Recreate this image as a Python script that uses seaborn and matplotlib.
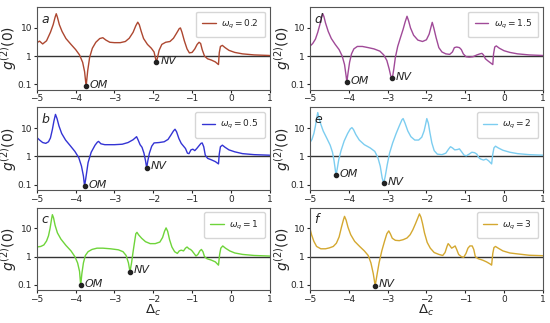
import numpy as np
import matplotlib
matplotlib.use("Agg")
import matplotlib.pyplot as plt
import seaborn as sns

# curves (detuning, g2(0))
x_a = [-5.0, -4.93, -4.85, -4.75, -4.65, -4.58, -4.53, -4.5, -4.47, -4.42, -4.35, -4.25, -4.12, -4.0, -3.9,
       -3.82, -3.77, -3.73, -3.69, -3.64, -3.57, -3.48, -3.38, -3.3, -3.22, -3.12, -3.0, -2.85, -2.72, -2.62,
       -2.52, -2.45, -2.4, -2.36, -2.31, -2.25, -2.15, -2.05, -1.98, -1.94, -1.92, -1.89, -1.85, -1.78, -1.68,
       -1.57, -1.48, -1.4, -1.33, -1.3, -1.26, -1.2, -1.13, -1.07, -1.0, -0.93, -0.87, -0.82, -0.78, -0.74,
       -0.68, -0.6, -0.5, -0.4, -0.32, -0.3, -0.27, -0.22, -0.15, -0.05, 0.1, 0.3, 0.6, 1.0]
y_a = [3.0, 3.4, 2.7, 3.5, 7.0, 13, 24, 32, 24, 13, 7.5, 4.2, 2.6, 1.7, 1.1,
       0.6, 0.28, 0.085, 0.3, 0.9, 1.9, 3.1, 4.2, 4.5, 3.7, 3.1, 3.0, 3.0, 3.3, 4.3,
       7.0, 12, 16, 13, 7.5, 4.2, 2.6, 1.9, 1.4, 0.8, 0.6, 0.9, 1.6, 2.6, 3.1,
       3.3, 4.3, 6.5, 9.5, 10, 7.0, 3.5, 1.8, 1.3, 1.35, 1.8, 2.6, 3.1, 2.8, 1.7,
       1.0, 0.8, 0.72, 0.62, 0.5, 1.3, 2.2, 2.4, 2.0, 1.6, 1.35, 1.2, 1.1, 1.05]

x_b = [-5.0, -4.93, -4.85, -4.77, -4.7, -4.65, -4.6, -4.56, -4.52, -4.48, -4.43, -4.36, -4.26, -4.14, -4.02,
       -3.92, -3.85, -3.8, -3.77, -3.73, -3.68, -3.6, -3.5, -3.44, -3.41, -3.35, -3.25, -3.0, -2.8, -2.65,
       -2.52, -2.43, -2.39, -2.34, -2.29, -2.24, -2.2, -2.17, -2.14, -2.1, -2.04, -1.98, -1.85, -1.72, -1.62,
       -1.55, -1.48, -1.44, -1.4, -1.34, -1.28, -1.22, -1.17, -1.12, -1.08, -1.03, -0.98, -0.93, -0.88, -0.82,
       -0.77, -0.74, -0.7, -0.66, -0.6, -0.5, -0.4, -0.32, -0.3, -0.27, -0.22, -0.15, -0.05, 0.1, 0.3,
       0.6, 1.0]
y_b = [4.7, 3.8, 3.1, 2.9, 3.3, 4.5, 9.0, 18, 31, 22, 12, 6.5, 3.8, 2.4, 1.5,
       0.9, 0.45, 0.2, 0.087, 0.2, 0.6, 1.4, 2.5, 3.2, 3.4, 2.8, 2.6, 2.6, 2.7, 3.1,
       3.9, 5.0, 3.8, 2.6, 2.1, 1.3, 0.7, 0.39, 0.7, 1.3, 2.3, 3.0, 3.1, 3.3, 4.0,
       5.6, 8.0, 9.2, 7.5, 4.3, 2.9, 2.3, 1.9, 1.3, 1.25, 1.7, 1.8, 1.6, 1.9, 2.4,
       2.9, 3.0, 2.2, 1.1, 0.85, 0.75, 0.65, 0.54, 1.2, 2.2, 2.5, 2.1, 1.7, 1.45, 1.25,
       1.15, 1.1]

x_c = [-5.0, -4.9, -4.82, -4.75, -4.7, -4.66, -4.62, -4.6, -4.57, -4.53, -4.47, -4.38, -4.25, -4.12, -4.02,
       -3.95, -3.9, -3.87, -3.84, -3.8, -3.75, -3.68, -3.58, -3.45, -3.3, -3.1, -2.9, -2.78, -2.7, -2.64,
       -2.6, -2.56, -2.52, -2.48, -2.45, -2.42, -2.38, -2.3, -2.2, -2.08, -1.95, -1.83, -1.76, -1.71, -1.67,
       -1.63, -1.58, -1.52, -1.45, -1.38, -1.33, -1.28, -1.22, -1.17, -1.13, -1.08, -1.04, -1.0, -0.95, -0.9,
       -0.85, -0.8, -0.76, -0.72, -0.68, -0.62, -0.5, -0.4, -0.32, -0.29, -0.26, -0.21, -0.14, -0.03, 0.1,
       0.3, 0.6, 1.0]
y_c = [2.2, 2.3, 2.6, 3.6, 5.5, 10, 22, 31, 24, 13, 7.0, 4.2, 2.5, 1.6, 1.0,
       0.6, 0.3, 0.095, 0.25, 0.6, 1.1, 1.5, 1.8, 2.0, 2.0, 1.9, 1.75, 1.5, 1.1, 0.6,
       0.29, 0.6, 1.5, 3.5, 6.5, 7.3, 6.0, 4.5, 3.4, 2.9, 2.9, 3.3, 4.8, 8.0, 10.5,
       8.0, 4.0, 2.2, 1.5, 1.3, 1.6, 1.7, 1.6, 2.0, 2.2, 1.9, 1.8, 1.6, 1.3, 1.05,
       1.2, 1.6, 1.8, 1.5, 1.0, 0.85, 0.75, 0.65, 0.5, 1.2, 2.0, 2.4, 2.0, 1.6, 1.35,
       1.2, 1.1, 1.05]

x_d = [-5.0, -4.93, -4.86, -4.8, -4.74, -4.7, -4.67, -4.64, -4.6, -4.53, -4.45, -4.35, -4.25, -4.17, -4.11,
       -4.07, -4.05, -4.02, -3.98, -3.93, -3.87, -3.78, -3.65, -3.5, -3.35, -3.2, -3.1, -3.02, -2.96, -2.92,
       -2.88, -2.84, -2.8, -2.74, -2.67, -2.6, -2.55, -2.5, -2.46, -2.41, -2.33, -2.22, -2.1, -2.0, -1.93,
       -1.88, -1.85, -1.81, -1.75, -1.68, -1.6, -1.5, -1.4, -1.33, -1.28, -1.22, -1.15, -1.1, -1.05, -0.98,
       -0.9, -0.8, -0.7, -0.62, -0.57, -0.53, -0.48, -0.4, -0.33, -0.29, -0.27, -0.24, -0.2, -0.12, 0.0,
       0.15, 0.35, 0.65, 1.0]
y_d = [2.25, 2.8, 4.0, 7.0, 14, 25, 32, 25, 15, 7.5, 4.2, 2.6, 1.7, 1.0, 0.5,
       0.2, 0.12, 0.25, 0.6, 1.2, 1.8, 2.2, 2.2, 2.0, 1.8, 1.5, 1.1, 0.7, 0.35, 0.2,
       0.16, 0.35, 0.9, 2.2, 4.5, 9.0, 16, 26, 18, 10, 5.5, 3.7, 3.3, 3.8, 6.0,
       11, 15.8, 10, 4.5, 2.0, 1.4, 1.2, 1.15, 1.4, 2.0, 2.1, 2.0, 1.7, 1.2, 0.95,
       0.92, 0.95, 1.1, 1.2, 1.25, 1.1, 0.8, 0.65, 0.55, 0.5, 1.2, 2.1, 2.3, 1.9, 1.55,
       1.35, 1.2, 1.1, 1.05]

x_e = [-5.0, -4.95, -4.9, -4.86, -4.83, -4.8, -4.77, -4.73, -4.66, -4.57, -4.48, -4.42, -4.38, -4.35, -4.33,
       -4.3, -4.26, -4.2, -4.12, -4.03, -3.96, -3.92, -3.88, -3.82, -3.73, -3.6, -3.45, -3.33, -3.25, -3.19,
       -3.14, -3.1, -3.06, -3.01, -2.95, -2.87, -2.78, -2.7, -2.63, -2.6, -2.55, -2.48, -2.4, -2.3, -2.2,
       -2.12, -2.06, -2.02, -1.99, -1.95, -1.91, -1.86, -1.8, -1.72, -1.6, -1.5, -1.43, -1.38, -1.33, -1.27,
       -1.2, -1.15, -1.1, -1.03, -0.97, -0.9, -0.83, -0.76, -0.7, -0.65, -0.6, -0.53, -0.46, -0.4, -0.32,
       -0.29, -0.26, -0.22, -0.15, -0.03, 0.15, 0.35, 0.65, 1.0]
y_e = [3.1, 4.0, 6.5, 12, 22, 36, 24, 15, 8.0, 4.5, 2.5, 1.4, 0.7, 0.35, 0.21,
       0.35, 0.75, 1.6, 3.5, 6.5, 9.5, 10.5, 9.0, 6.0, 3.8, 2.6, 2.0, 1.5, 0.9, 0.45,
       0.17, 0.11, 0.2, 0.5, 1.3, 3.0, 6.5, 12, 20, 22, 15, 8.0, 5.0, 3.8, 3.8,
       4.8, 8.0, 14, 22, 15, 7.0, 3.0, 1.6, 1.2, 1.15, 1.3, 1.8, 2.2, 2.0, 1.7,
       1.75, 1.85, 1.5, 1.1, 1.05, 1.2, 1.4, 1.35, 1.2, 0.9, 0.8, 0.74, 0.8, 0.7, 0.54,
       1.2, 2.0, 2.3, 2.0, 1.65, 1.4, 1.25, 1.15, 1.1]

x_f = [-5.0, -4.96, -4.9, -4.83, -4.72, -4.6, -4.5, -4.4, -4.32, -4.25, -4.19, -4.14, -4.11, -4.07, -4.02,
       -3.95, -3.85, -3.72, -3.6, -3.5, -3.43, -3.37, -3.32, -3.28, -3.22, -3.15, -3.08, -3.02, -2.97, -2.93,
       -2.88, -2.8, -2.7, -2.6, -2.5, -2.42, -2.35, -2.28, -2.22, -2.18, -2.14, -2.1, -2.05, -1.98, -1.9,
       -1.8, -1.68, -1.58, -1.52, -1.47, -1.44, -1.4, -1.35, -1.3, -1.26, -1.22, -1.17, -1.1, -1.04, -0.98,
       -0.93, -0.88, -0.82, -0.78, -0.74, -0.67, -0.55, -0.45, -0.36, -0.32, -0.29, -0.26, -0.22, -0.15, -0.03,
       0.15, 0.35, 0.65, 1.0]
y_f = [10, 6.0, 3.5, 2.3, 1.9, 1.9, 2.05, 2.3, 3.0, 5.0, 11, 20, 27, 20, 11,
       6.0, 3.5, 2.3, 1.6, 1.1, 0.6, 0.25, 0.093, 0.2, 0.6, 1.6, 3.5, 6.5, 8.2, 6.5,
       4.5, 3.8, 3.7, 4.0, 4.6, 6.0, 9.0, 15, 24, 33, 25, 15, 7.0, 3.2, 2.0,
       1.4, 1.2, 1.1, 1.4, 2.3, 2.9, 2.5, 2.0, 2.2, 2.4, 1.8, 1.2, 1.0, 0.95, 1.3,
       2.0, 2.4, 2.4, 1.8, 1.0, 0.85, 0.75, 0.65, 0.55, 0.5, 1.3, 2.1, 2.3, 2.0, 1.6,
       1.35, 1.25, 1.12, 1.08]

panel_letters = ["a", "b", "c", "d", "e", "f"]
omega_q = ["0.2", "0.5", "1", "1.5", "2", "3"]
line_colors = ["#ad4730", "#3434d4", "#6ed43a", "#a04a98", "#7ccdf0", "#d4a830"]

# marked minima: (x, y) of OM and NV points, None when absent
om_points = [(-3.73, 0.085), (-3.77, 0.087), (-3.87, 0.095), (-4.05, 0.12), (-4.33, 0.21), None]
nv_points = [(-1.92, 0.6), (-2.17, 0.39), (-2.6, 0.29), (-2.88, 0.16), (-3.1, 0.11), (-3.32, 0.093)]

curves_x = [x_a, x_b, x_c, x_d, x_e, x_f]
curves_y = [y_a, y_b, y_c, y_d, y_e, y_f]

sns.set_style("ticks")
plt.rcParams["font.family"] = ["DejaVu Sans"]

fig, axes = plt.subplots(3, 2, figsize=(5.5, 3.23), dpi=100)
fig.subplots_adjust(left=0.067, right=0.987, top=0.978, bottom=0.102, wspace=0.173, hspace=0.217)

for i in range(6):
    ax = axes[i % 3, i // 3]
    sns.lineplot(x=curves_x[i], y=curves_y[i], ax=ax, color=line_colors[i], lw=1.0,
                 label=r"$\omega_q = %s$" % omega_q[i])
    ax.axhline(1, color="#333333", lw=1.0, zorder=1)
    ax.set_yscale("log")
    ax.set_ylim(0.065, 55)
    ax.set_xlim(-5, 1)
    ax.set_yticks([0.1, 1, 10])
    ax.set_yticklabels(["0.1", "1", "10"])
    ax.minorticks_off()
    ax.set_xticks([-5, -4, -3, -2, -1, 0, 1])
    ax.tick_params(labelsize=6.5, length=2.5, pad=1)
    ax.set_ylabel(r"$g^{(2)}(0)$", fontsize=10)
    ax.yaxis.set_label_coords(-0.075, 0.5)
    if i % 3 == 2:
        ax.set_xlabel(r"$\Delta_c$", fontsize=9.5)
        ax.xaxis.set_label_coords(0.5, -0.16)
    ax.text(0.02, 0.93, panel_letters[i], transform=ax.transAxes, fontsize=9,
            style="italic", va="top")
    ax.legend(loc="upper right", fontsize=6.5, handlelength=1.5, borderpad=0.7,
              handletextpad=0.6)
    for pt, name in [(om_points[i], "OM"), (nv_points[i], "NV")]:
        if pt is None:
            continue
        ax.plot(pt[0], pt[1], "o", color="#222222", ms=3, zorder=5)
        ax.text(pt[0] + 0.1, pt[1] * 1.12, name, fontsize=8, style="italic", va="center")
    for s in ax.spines.values():
        s.set_color("#555555")

fig.savefig("out.png", dpi=100)
